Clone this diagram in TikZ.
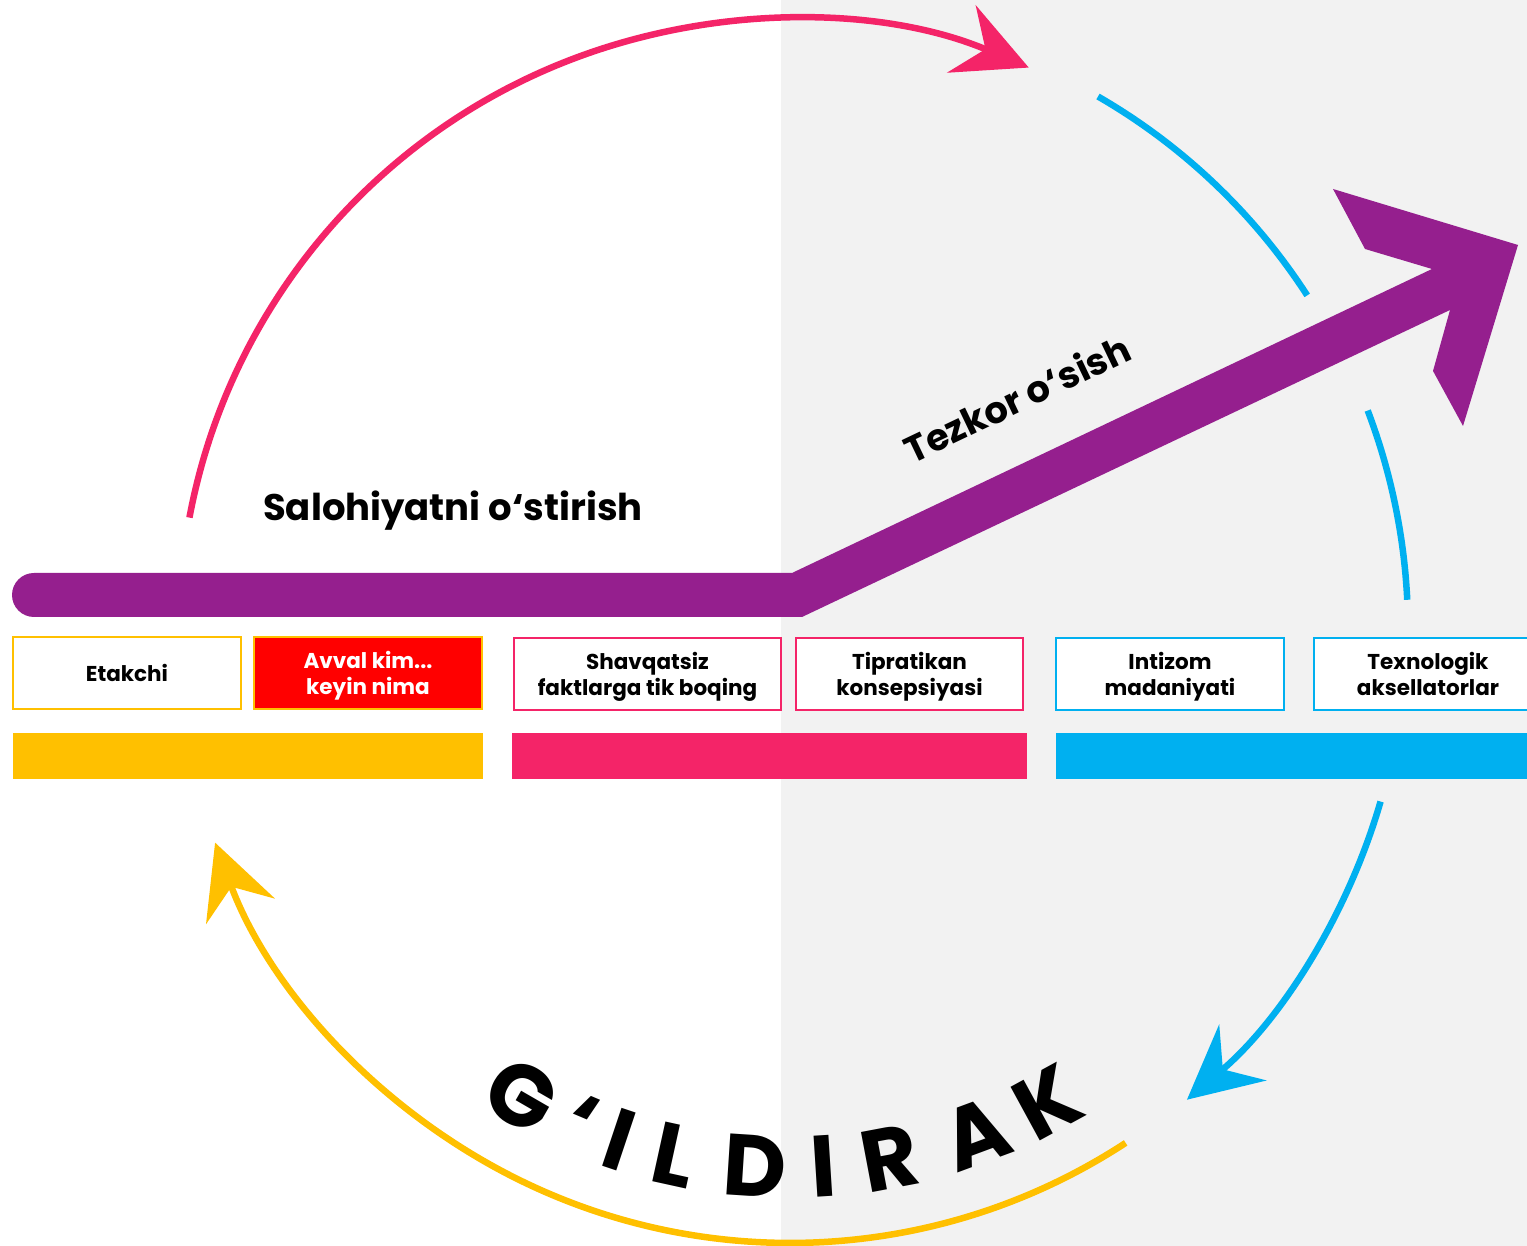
\documentclass[tikz,border=0pt]{standalone}
\usepackage{fontspec}
\setmainfont{Poppins}
\usetikzlibrary{arrows.meta}
\definecolor{pinkc}{HTML}{F42468}
\definecolor{bluec}{HTML}{00B0F0}
\definecolor{yellowc}{HTML}{FFC000}
\definecolor{purplec}{HTML}{951F8E}
\definecolor{grayc}{HTML}{F2F2F2}
\definecolor{redc}{HTML}{FF0000}
\newcommand\tstrutx{\rule{0pt}{24pt}}
\begin{document}
\begin{tikzpicture}[x=1pt,y=1pt,
  cyc/.style={line width=6.5pt},
  tipA/.style={-{Stealth[length=73pt,width=73pt,inset=26pt]}},
  box/.style={draw, line width=2.5pt, fill=white, minimum height=72pt, inner sep=0pt, align=center,
    font=\fontsize{21.5}{26}\selectfont\bfseries},
  bar/.style={minimum height=46pt, inner sep=0pt, draw=none},
  big/.style={font=\fontsize{37}{40}\selectfont\bfseries},
  letter/.style={font=\fontsize{87}{90}\selectfont\bfseries, anchor=base, inner sep=0pt}]
\useasboundingbox (0,0) rectangle (1527,1246);
\fill[white] (0,0) rectangle (1527,1246);
\fill[grayc] (781,0) rectangle (1527,1246);
\coordinate (C) at (790,616);
% cycle arcs
\draw[cyc, pinkc, tipA] ([shift={(169.4:611)}]C) arc[start angle=169.4, end angle=67.0, radius=611];
\draw[cyc, bluec] ([shift={(60.0:616)}]C) arc[start angle=60.0, end angle=32.9, radius=616];
\draw[cyc, bluec] ([shift={(20.8:618)}]C) arc[start angle=20.8, end angle=2.8, radius=618];
\draw[cyc, bluec, tipA] ([shift={(-16.2:615)}]C) arc[start angle=-16.2, end angle=-49.8, radius=615];
\draw[cyc, yellowc, tipA] ([shift={(-56.8:613)}]C) arc[start angle=-56.8, end angle=-159.7, radius=613];
% purple growth arrow
\fill[purplec] (34,673) -- (792,673) -- (1432,977) -- (1365,997) -- (1333,1057) -- (1518,1001)
  -- (1463,820) -- (1433,875) -- (1450,936) -- (802,629) -- (34,629) arc[start angle=270, end angle=90, radius=22] -- cycle;
\node[big] (sal) at (453,735) {Salohiyatni o‘stirish};
\node[big, rotate=25.5] (tez) at (1017,848) {Tezkor o‘sish};
% boxes
\node[box, draw=yellowc, minimum width=228pt] (b1) at (127,573) {Etakchi};
\node[box, draw=yellowc, fill=redc, text=white, minimum width=228pt] (b2) at (368,573) {\tstrutx Avval kim...\\keyin nima\strut};
\node[box, draw=pinkc, minimum width=267pt] (b3) at (647.5,572) {\tstrutx Shavqatsiz\\faktlarga tik boqing\strut};
\node[box, draw=pinkc, minimum width=227pt] (b4) at (909.5,572) {\tstrutx Tipratikan\\konsepsiyasi\strut};
\node[box, draw=bluec, minimum width=228pt] (b5) at (1170,572) {\tstrutx Intizom\\madaniyati\strut};
\node[box, draw=bluec, minimum width=228pt] (b6) at (1428,572) {\tstrutx Texnologik\\aksellatorlar\strut};
% bars
\node[bar, fill=yellowc, minimum width=470pt] (y1) at (248,490) {};
\node[bar, fill=pinkc, minimum width=515pt] (p1) at (769.5,490) {};
\node[bar, fill=bluec, minimum width=504pt] (c1) at (1308,490) {};
% curved word
\foreach \ch/\ang [count=\i] in {G/-30, ‘/-23, I/-18.5, L/-12.4, D/-3.7, I/3.6, R/10.7, A/20.3, K/28.6}
  \node[letter, rotate=\ang] (g\i) at ([shift={(-90+\ang:568)}]790,616) {\ch};
\end{tikzpicture}
\end{document}
